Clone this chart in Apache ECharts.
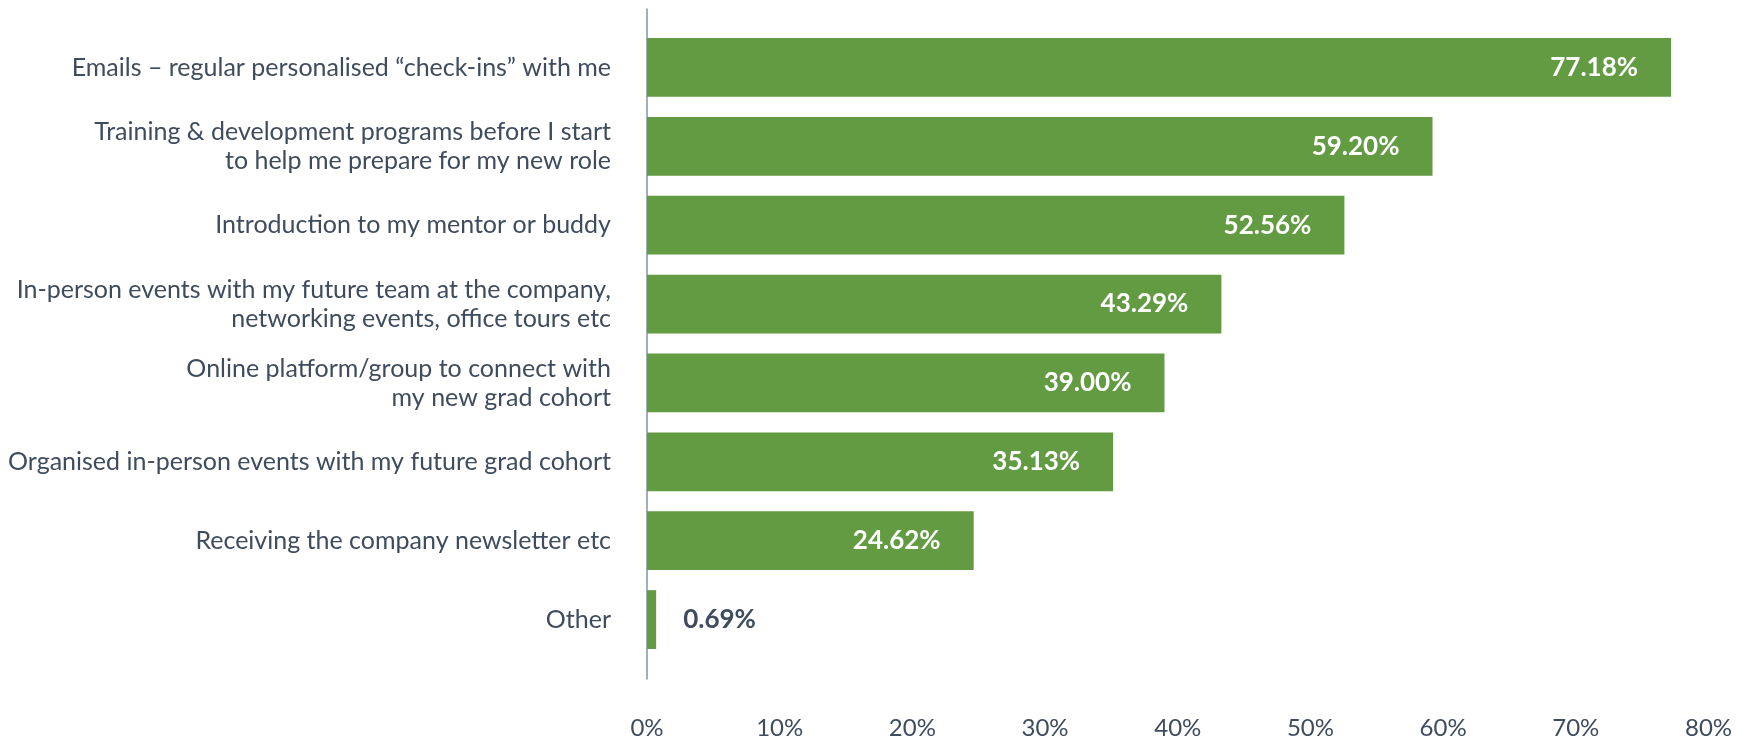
<!DOCTYPE html>
<html>
<head>
<meta charset="utf-8">
<script src="https://cdn.jsdelivr.net/npm/echarts@6/dist/echarts.min.js"></script>
<style>
  html, body { margin: 0; padding: 0; background: #ffffff; }
  #chart { width: 1747px; height: 740px; }
</style>
</head>
<body>
<div id="chart"></div>
<script>
// Survey answers, listed top to bottom
const categories = [
  'Emails – regular personalised “check-ins” with me',
  'Training & development programs before I start\nto help me prepare for my new role',
  'Introduction to my mentor or buddy',
  'In-person events with my future team at the company,\nnetworking events, office tours etc',
  'Online platform/group to connect with\nmy new grad cohort',
  'Organised in-person events with my future grad cohort',
  'Receiving the company newsletter etc',
  'Other'
];
// Share of respondents (%)
const shares = [77.18, 59.20, 52.56, 43.29, 39.00, 35.13, 24.62, 0.69];
// Percentage axis ticks
const tickValues = [0, 10, 20, 30, 40, 50, 60, 70, 80];

const FONT = 'Lato, "Noto Sans", sans-serif';
const TEXT = '#3e4c5e';
const GREEN = '#629b41';

const chart = echarts.init(document.getElementById('chart'), null, { renderer: 'canvas' });

const seriesData = shares.map(function (v) {
  const small = v < 5;
  return {
    value: v,
    label: small
      ? { position: 'right', distance: 27, color: TEXT }
      : { position: 'insideRight', distance: 33, color: '#ffffff' }
  };
});

chart.setOption({
  animation: false,
  backgroundColor: '#ffffff',
  grid: [
    { left: 647, right: 38.5, top: 28, bottom: 79 },
    { left: 647, right: 38.5, top: 9, bottom: 61 }
  ],
  xAxis: [
    {
      gridIndex: 0,
      type: 'value',
      min: tickValues[0],
      max: tickValues[tickValues.length - 1],
      interval: 10,
      axisLine: { show: false },
      axisTick: { show: false },
      splitLine: { show: false },
      axisLabel: {
        margin: 57,
        fontFamily: FONT,
        fontSize: 24,
        color: TEXT,
        formatter: function (v) { return v + '%'; }
      }
    },
    { gridIndex: 1, type: 'value', min: 0, max: 1, show: false }
  ],
  yAxis: [
    {
      gridIndex: 0,
      type: 'category',
      inverse: true,
      data: categories,
      axisLine: { show: false },
      axisTick: { show: false },
      splitLine: { show: false },
      axisLabel: {
        margin: 36,
        fontFamily: FONT,
        fontSize: 25,
        lineHeight: 29,
        color: TEXT,
        align: 'right'
      }
    },
    {
      gridIndex: 1,
      type: 'value',
      min: 0,
      max: 1,
      axisLine: { show: true, lineStyle: { color: '#8393a7', width: 1.5 } },
      axisTick: { show: false },
      axisLabel: { show: false },
      splitLine: { show: false }
    }
  ],
  series: [
    {
      type: 'bar',
      xAxisIndex: 0,
      yAxisIndex: 0,
      data: seriesData,
      barCategoryGap: '25.4%',
      itemStyle: { color: GREEN },
      label: {
        show: true,
        fontFamily: FONT,
        fontSize: 26,
        fontWeight: 'bold',
        formatter: function (p) { return p.value.toFixed(2) + '%'; }
      }
    }
  ]
});
</script>
</body>
</html>
